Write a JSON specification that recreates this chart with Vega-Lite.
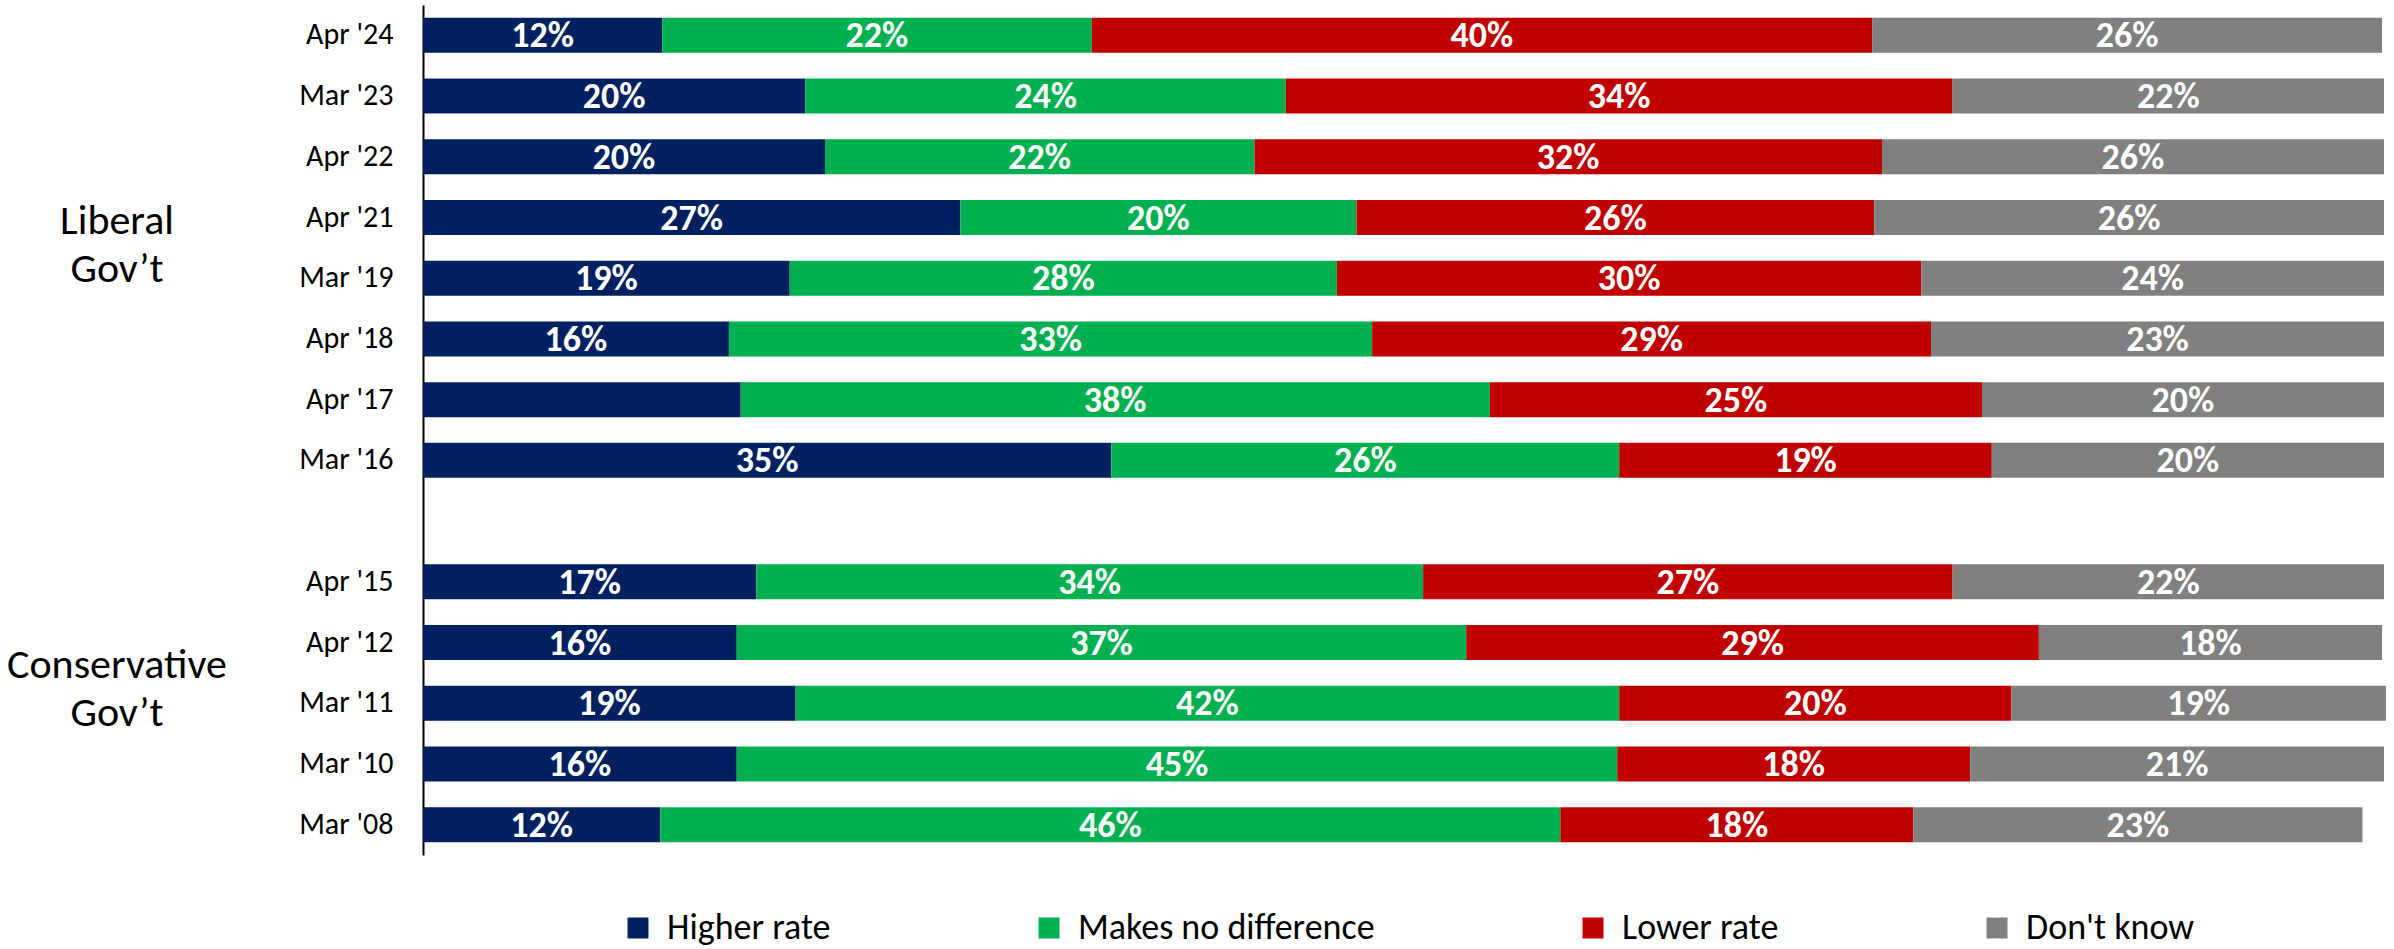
{
  "$schema": "https://vega.github.io/schema/vega-lite/v6.json",
  "width": 1961,
  "height": 850,
  "autosize": "none",
  "padding": {"left": 423, "top": 5, "right": 10, "bottom": 94},
  "background": "white",
  "config": {"view": {"stroke": null}, "font": "Carlito, Liberation Sans, sans-serif"},
  "datasets": {
    "bars": [
      {"period": "Apr '24", "response": "Higher rate", "k": 1, "pct": 12.2, "label": "12%"},
      {"period": "Apr '24", "response": "Makes no difference", "k": 2, "pct": 21.9, "label": "22%"},
      {"period": "Apr '24", "response": "Lower rate", "k": 3, "pct": 39.8, "label": "40%"},
      {"period": "Apr '24", "response": "Don't know", "k": 4, "pct": 26.0, "label": "26%"},
      {"period": "Mar '23", "response": "Higher rate", "k": 1, "pct": 19.5, "label": "20%"},
      {"period": "Mar '23", "response": "Makes no difference", "k": 2, "pct": 24.5, "label": "24%"},
      {"period": "Mar '23", "response": "Lower rate", "k": 3, "pct": 34.0, "label": "34%"},
      {"period": "Mar '23", "response": "Don't know", "k": 4, "pct": 22.0, "label": "22%"},
      {"period": "Apr '22", "response": "Higher rate", "k": 1, "pct": 20.5, "label": "20%"},
      {"period": "Apr '22", "response": "Makes no difference", "k": 2, "pct": 21.9, "label": "22%"},
      {"period": "Apr '22", "response": "Lower rate", "k": 3, "pct": 32.0, "label": "32%"},
      {"period": "Apr '22", "response": "Don't know", "k": 4, "pct": 25.6, "label": "26%"},
      {"period": "Apr '21", "response": "Higher rate", "k": 1, "pct": 27.4, "label": "27%"},
      {"period": "Apr '21", "response": "Makes no difference", "k": 2, "pct": 20.2, "label": "20%"},
      {"period": "Apr '21", "response": "Lower rate", "k": 3, "pct": 26.4, "label": "26%"},
      {"period": "Apr '21", "response": "Don't know", "k": 4, "pct": 26.0, "label": "26%"},
      {"period": "Mar '19", "response": "Higher rate", "k": 1, "pct": 18.7, "label": "19%"},
      {"period": "Mar '19", "response": "Makes no difference", "k": 2, "pct": 27.9, "label": "28%"},
      {"period": "Mar '19", "response": "Lower rate", "k": 3, "pct": 29.8, "label": "30%"},
      {"period": "Mar '19", "response": "Don't know", "k": 4, "pct": 23.6, "label": "24%"},
      {"period": "Apr '18", "response": "Higher rate", "k": 1, "pct": 15.6, "label": "16%"},
      {"period": "Apr '18", "response": "Makes no difference", "k": 2, "pct": 32.8, "label": "33%"},
      {"period": "Apr '18", "response": "Lower rate", "k": 3, "pct": 28.5, "label": "29%"},
      {"period": "Apr '18", "response": "Don't know", "k": 4, "pct": 23.1, "label": "23%"},
      {"period": "Apr '17", "response": "Higher rate", "k": 1, "pct": 16.2, "label": ""},
      {"period": "Apr '17", "response": "Makes no difference", "k": 2, "pct": 38.2, "label": "38%"},
      {"period": "Apr '17", "response": "Lower rate", "k": 3, "pct": 25.1, "label": "25%"},
      {"period": "Apr '17", "response": "Don't know", "k": 4, "pct": 20.5, "label": "20%"},
      {"period": "Mar '16", "response": "Higher rate", "k": 1, "pct": 35.1, "label": "35%"},
      {"period": "Mar '16", "response": "Makes no difference", "k": 2, "pct": 25.9, "label": "26%"},
      {"period": "Mar '16", "response": "Lower rate", "k": 3, "pct": 19.0, "label": "19%"},
      {"period": "Mar '16", "response": "Don't know", "k": 4, "pct": 20.0, "label": "20%"},
      {"period": "Apr '15", "response": "Higher rate", "k": 1, "pct": 17.0, "label": "17%"},
      {"period": "Apr '15", "response": "Makes no difference", "k": 2, "pct": 34.0, "label": "34%"},
      {"period": "Apr '15", "response": "Lower rate", "k": 3, "pct": 27.0, "label": "27%"},
      {"period": "Apr '15", "response": "Don't know", "k": 4, "pct": 22.0, "label": "22%"},
      {"period": "Apr '12", "response": "Higher rate", "k": 1, "pct": 16.0, "label": "16%"},
      {"period": "Apr '12", "response": "Makes no difference", "k": 2, "pct": 37.2, "label": "37%"},
      {"period": "Apr '12", "response": "Lower rate", "k": 3, "pct": 29.2, "label": "29%"},
      {"period": "Apr '12", "response": "Don't know", "k": 4, "pct": 17.5, "label": "18%"},
      {"period": "Mar '11", "response": "Higher rate", "k": 1, "pct": 19.0, "label": "19%"},
      {"period": "Mar '11", "response": "Makes no difference", "k": 2, "pct": 42.0, "label": "42%"},
      {"period": "Mar '11", "response": "Lower rate", "k": 3, "pct": 20.0, "label": "20%"},
      {"period": "Mar '11", "response": "Don't know", "k": 4, "pct": 19.1, "label": "19%"},
      {"period": "Mar '10", "response": "Higher rate", "k": 1, "pct": 16.0, "label": "16%"},
      {"period": "Mar '10", "response": "Makes no difference", "k": 2, "pct": 44.9, "label": "45%"},
      {"period": "Mar '10", "response": "Lower rate", "k": 3, "pct": 18.0, "label": "18%"},
      {"period": "Mar '10", "response": "Don't know", "k": 4, "pct": 21.1, "label": "21%"},
      {"period": "Mar '08", "response": "Higher rate", "k": 1, "pct": 12.1, "label": "12%"},
      {"period": "Mar '08", "response": "Makes no difference", "k": 2, "pct": 45.9, "label": "46%"},
      {"period": "Mar '08", "response": "Lower rate", "k": 3, "pct": 18.0, "label": "18%"},
      {"period": "Mar '08", "response": "Don't know", "k": 4, "pct": 22.9, "label": "23%"}
    ]
  },
  "layer": [
    {
      "data": {"name": "bars"},
      "mark": {"type": "bar"},
      "encoding": {
        "y": {
          "field": "period",
          "type": "nominal",
          "scale": {
            "domain": ["Apr '24", "Mar '23", "Apr '22", "Apr '21", "Mar '19", "Apr '18", "Apr '17", "Mar '16", "gap", "Apr '15", "Apr '12", "Mar '11", "Mar '10", "Mar '08"],
            "paddingInner": 0.423,
            "paddingOuter": 0.2115
          },
          "axis": {
            "title": null,
            "labelExpr": "datum.value == 'gap' ? '' : datum.value",
            "ticks": false,
            "labelFontSize": 30,
            "labelColor": "black",
            "labelPadding": 30,
            "domainColor": "black",
            "domainWidth": 2,
            "grid": false
          }
        },
        "x": {"field": "pct", "type": "quantitative", "stack": "zero", "scale": {"domain": [0, 100]}, "axis": null},
        "color": {
          "field": "response",
          "type": "nominal",
          "scale": {
            "domain": ["Higher rate", "Makes no difference", "Lower rate", "Don't know"],
            "range": ["#002060", "#00B050", "#C00000", "#808080"]
          },
          "legend": {
            "title": null,
            "orient": "none",
            "legendX": 197,
            "legendY": 905,
            "direction": "horizontal",
            "symbolType": "square",
            "symbolSize": 441,
            "symbolStrokeWidth": 0,
            "labelFontSize": 36,
            "labelColor": "black",
            "labelOffset": 11,
            "labelLimit": 600,
            "columnPadding": 200,
            "padding": 0
          }
        },
        "order": {"field": "k", "type": "quantitative"}
      }
    },
    {
      "data": {"name": "bars"},
      "mark": {"type": "text", "color": "white", "fontWeight": "bold", "fontSize": 36, "baseline": "middle", "align": "center", "dy": 1},
      "encoding": {
        "y": {"field": "period", "type": "nominal"},
        "x": {"field": "pct", "type": "quantitative", "stack": "zero", "bandPosition": 0.5},
        "detail": {"field": "response"},
        "order": {"field": "k", "type": "quantitative"},
        "text": {"field": "label", "type": "nominal"}
      }
    },
    {
      "data": {"values": [{"group": ["Liberal", "Gov’t"], "anchor": "Apr '21"}]},
      "mark": {"type": "text", "fontSize": 42, "lineHeight": 48, "align": "center", "baseline": "middle", "dy": 3, "color": "black"},
      "encoding": {
        "y": {"field": "anchor", "type": "nominal"},
        "x": {"value": -306},
        "text": {"field": "group"}
      }
    },
    {
      "data": {"values": [{"group": ["Conservative", "Gov’t"], "anchor": "Apr '12"}]},
      "mark": {"type": "text", "fontSize": 42, "lineHeight": 48, "align": "center", "baseline": "middle", "dy": 22, "color": "black"},
      "encoding": {
        "y": {"field": "anchor", "type": "nominal"},
        "x": {"value": -306},
        "text": {"field": "group"}
      }
    }
  ]
}
